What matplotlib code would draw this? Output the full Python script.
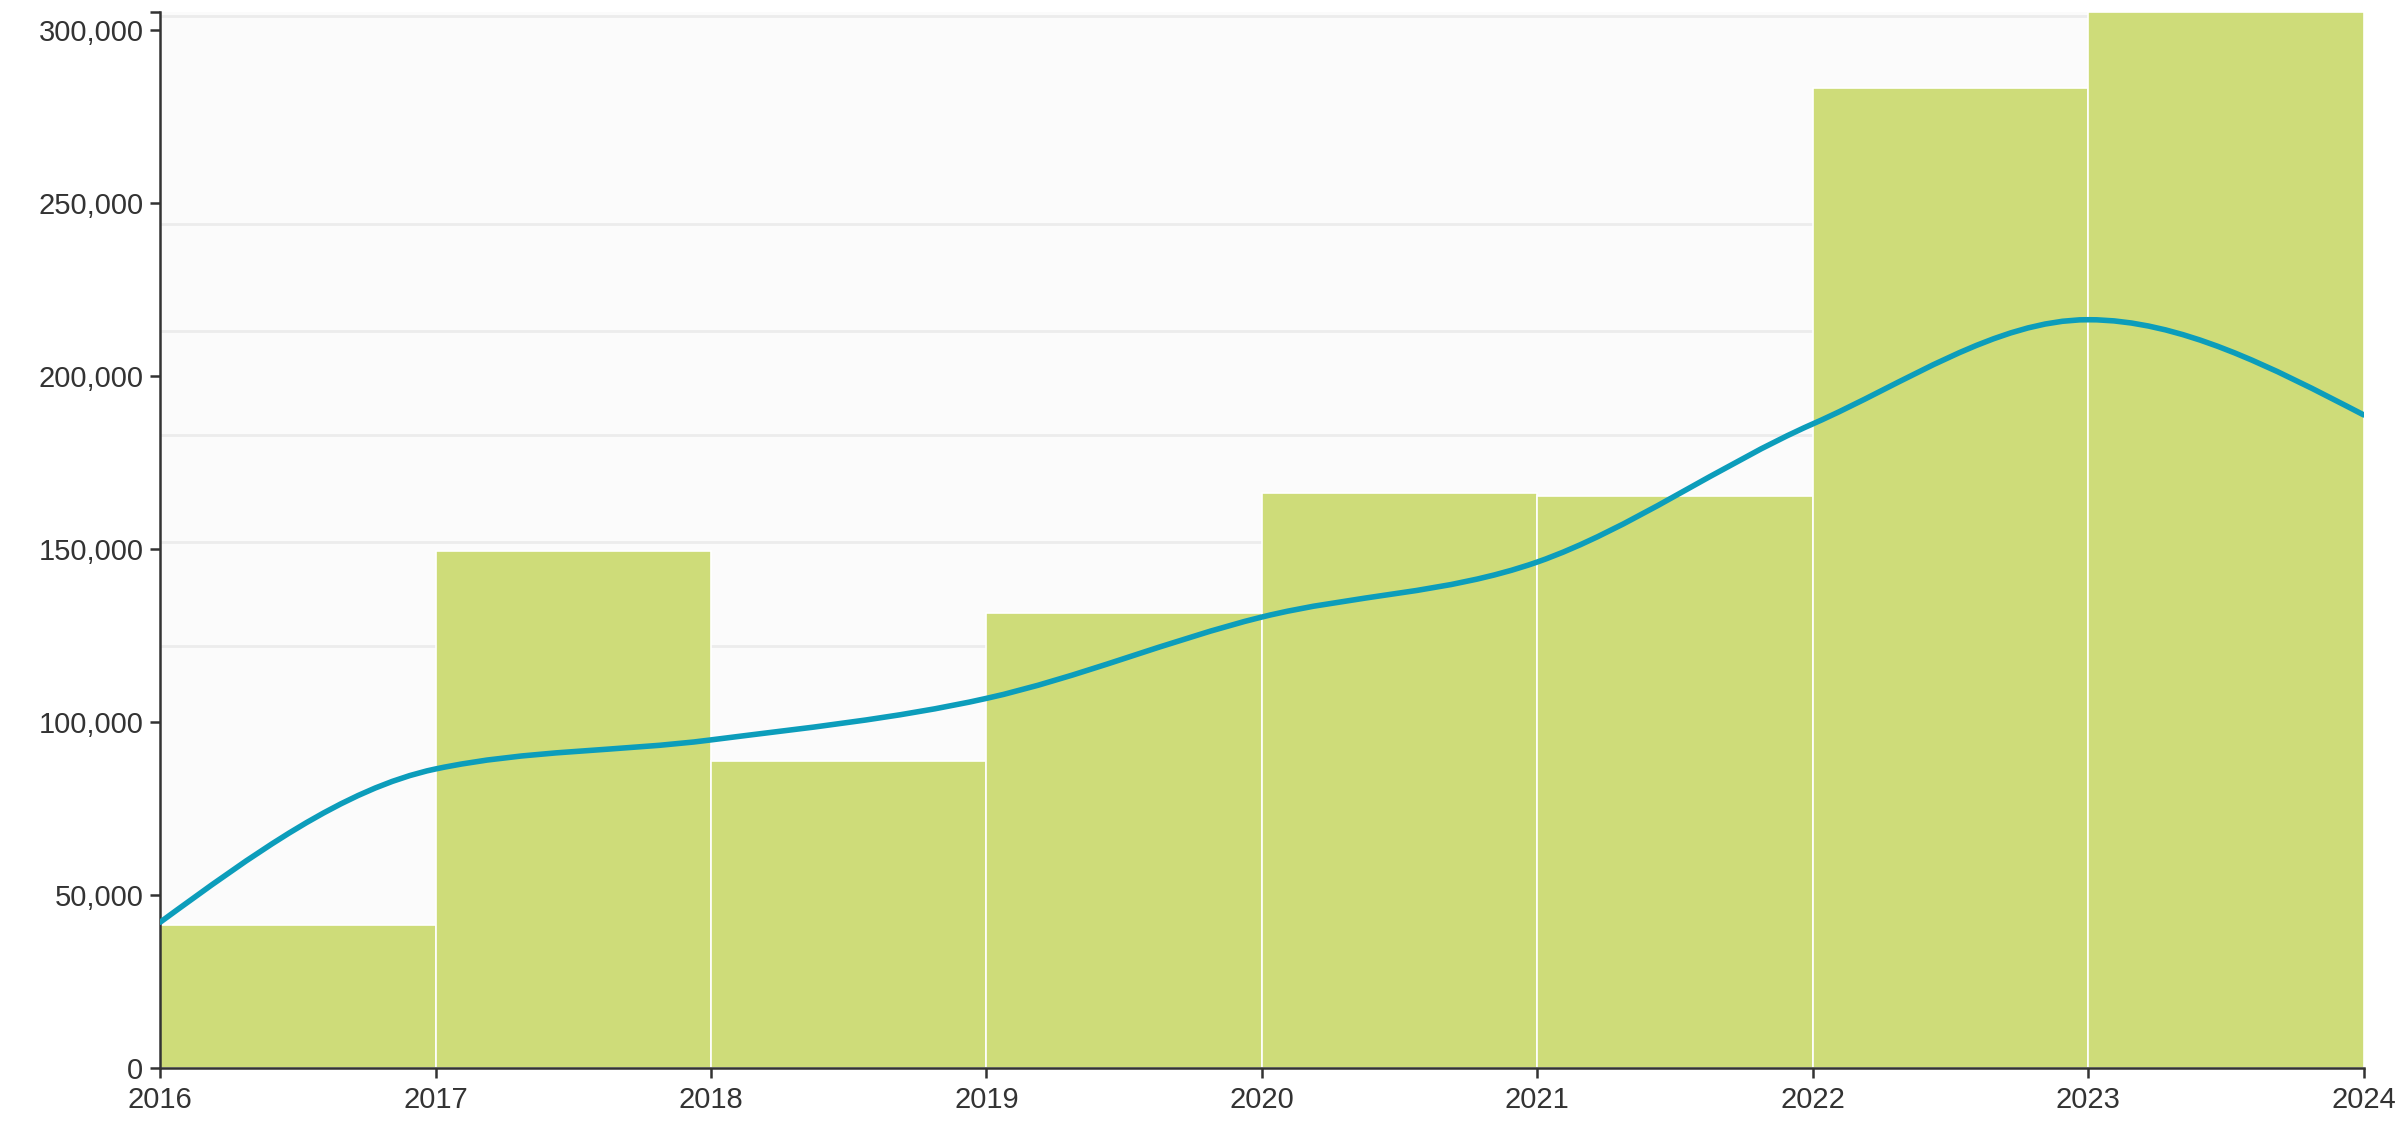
import numpy as np
import matplotlib
matplotlib.use('Agg')
import matplotlib.pyplot as plt
from matplotlib.path import Path
from matplotlib.patches import PathPatch
from matplotlib.ticker import FuncFormatter

plt.rcParams['font.family'] = ['Liberation Sans', 'DejaVu Sans']

# bar values, one per year span
years = [2016, 2017, 2018, 2019, 2020, 2021, 2022, 2023]
bar_values = [41200, 149300, 88600, 131600, 166100, 165300, 283100, 305000]

# trend line values at year boundaries
line_years = [2016, 2017, 2018, 2019, 2020, 2021, 2022, 2023, 2024]
line_values = [42100, 86400, 94800, 106800, 130300, 146200, 186100, 216200, 188700]

# faint background lines
grid_values = [304000, 244000, 213000, 183000, 152000, 122000]

y_ticks = [0, 50000, 100000, 150000, 200000, 250000, 300000]
x_ticks = [2016, 2017, 2018, 2019, 2020, 2021, 2022, 2023, 2024]


def monotone_path(xs, ys):
    # cubic bezier segments like d3.curveMonotoneX
    xs = np.asarray(xs, float)
    ys = np.asarray(ys, float)
    n = len(xs)
    t = np.zeros(n)
    for i in range(1, n - 1):
        h0 = xs[i] - xs[i - 1]
        h1 = xs[i + 1] - xs[i]
        s0 = (ys[i] - ys[i - 1]) / h0
        s1 = (ys[i + 1] - ys[i]) / h1
        p = (s0 * h1 + s1 * h0) / (h0 + h1)
        t[i] = (np.sign(s0) + np.sign(s1)) * min(abs(s0), abs(s1), 0.5 * abs(p))
    h = xs[1] - xs[0]
    t[0] = (3 * (ys[1] - ys[0]) / h - t[1]) / 2
    h = xs[-1] - xs[-2]
    t[-1] = (3 * (ys[-1] - ys[-2]) / h - t[-2]) / 2
    verts = [(xs[0], ys[0])]
    codes = [Path.MOVETO]
    for i in range(n - 1):
        dx = (xs[i + 1] - xs[i]) / 3
        verts += [(xs[i] + dx, ys[i] + dx * t[i]),
                  (xs[i + 1] - dx, ys[i + 1] - dx * t[i + 1]),
                  (xs[i + 1], ys[i + 1])]
        codes += [Path.CURVE4] * 3
    return Path(verts, codes)


fig = plt.figure(figsize=(24.07, 11.26), dpi=100)
fig.patch.set_facecolor('white')
ax = fig.add_axes([0.0665, 0.0515, 0.9155, 0.9375])
ax.set_facecolor('#fbfbfb')

for g in grid_values:
    ax.axhline(g, color='#ececec', lw=2, zorder=0)

ax.bar(years, bar_values, width=1, align='edge', color='#cedc79',
       edgecolor='white', linewidth=1.2, zorder=2)

ax.add_patch(PathPatch(monotone_path(line_years, line_values), facecolor='none',
                       edgecolor='#0c9dbb', lw=4, zorder=3, capstyle='round'))

ax.set_xlim(2016, 2024)
ax.set_ylim(0, 305000)
ax.set_xticks(x_ticks)
ax.set_xticklabels([str(x) for x in x_ticks])
ax.set_yticks(y_ticks + [305000])
ax.yaxis.set_major_formatter(FuncFormatter(lambda v, p: '' if v == 305000 else f'{int(v):,}'))

for s in ['top', 'right']:
    ax.spines[s].set_visible(False)
for s in ['left', 'bottom']:
    ax.spines[s].set_color('#333333')
    ax.spines[s].set_linewidth(1.8)
ax.tick_params(axis='both', colors='#333333', labelsize=21, length=7, width=1.8, pad=5)
ax.tick_params(axis='x', pad=6)

fig.savefig('out.png', dpi=100, facecolor='white')
